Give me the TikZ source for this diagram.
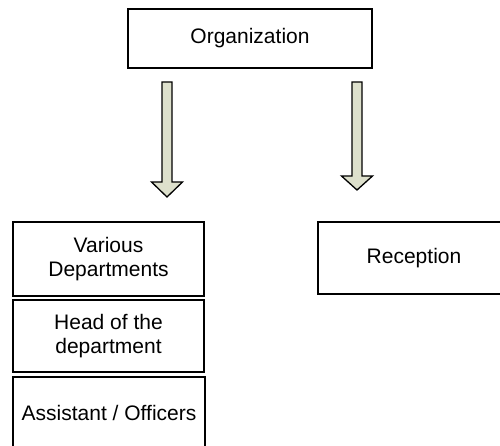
\documentclass[tikz,border=0pt]{standalone}
\usepackage{fontspec}
\setmainfont{Liberation Sans}
\usetikzlibrary{calc}
\definecolor{arrowfill}{RGB}{221,224,204}
\begin{document}
\begin{tikzpicture}[x=1pt,y=-1pt,
  box/.style={draw=black,line width=1.4pt,fill=white,inner sep=0pt,align=center,
    font=\fontsize{21}{24}\selectfont},
  blockarrow/.style={draw=black,line width=1.3pt,fill=arrowfill,line join=miter}]
\clip (0,0) rectangle (500,446);
\useasboundingbox (0,0) rectangle (500,446);
\node[box,minimum width=244pt,minimum height=59pt] (org) at (250,38.5) {Organization};
\node[box,minimum width=191pt,minimum height=74pt] (dept) at (108.5,259) {Various\\Departments};
\node[box,minimum width=191pt,minimum height=72pt] (head) at (108.5,336) {Head of the\\department};
\node[box,minimum width=192pt,minimum height=71pt] (asst) at (109,412.5) {Assistant / Officers};
\node[box,minimum width=192pt,minimum height=72pt] (recep) at (414,258) {Reception};
% left block arrow
\coordinate (la) at (167,82);
\draw[blockarrow] ($(la)+(-5,0)$) -- ($(la)+(5,0)$) -- ($(la)+(5,100)$) -- ($(la)+(15.5,100)$)
  -- ($(la)+(0,115)$) -- ($(la)+(-15.5,100)$) -- ($(la)+(-5,100)$) -- cycle;
% right block arrow
\coordinate (ra) at (357,82);
\draw[blockarrow] ($(ra)+(-5,0)$) -- ($(ra)+(5,0)$) -- ($(ra)+(5,94)$) -- ($(ra)+(15.5,94)$)
  -- ($(ra)+(0,108)$) -- ($(ra)+(-15.5,94)$) -- ($(ra)+(-5,94)$) -- cycle;
\end{tikzpicture}
\end{document}
